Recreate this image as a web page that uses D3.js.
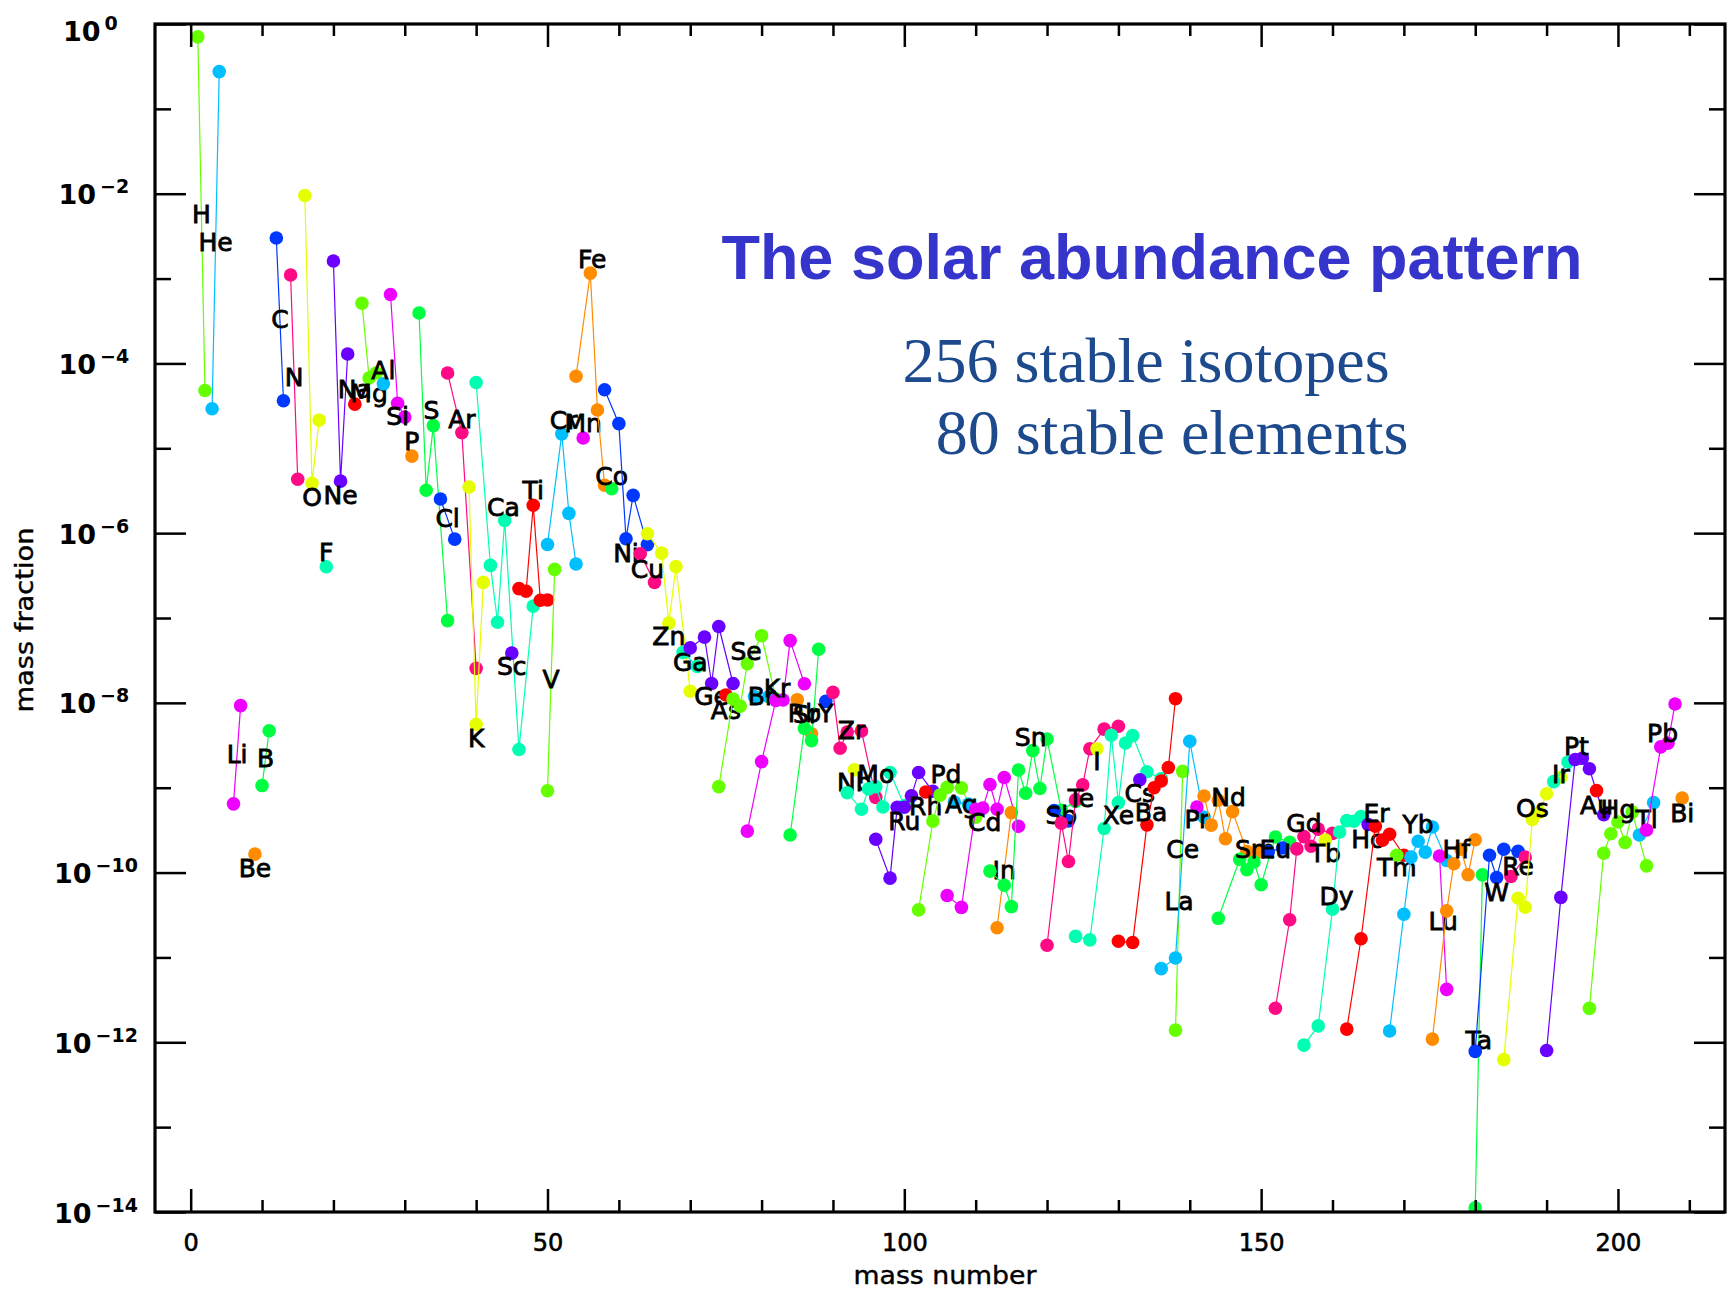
<!DOCTYPE html>
<html>
<head>
<meta charset="utf-8">
<script src="https://cdn.jsdelivr.net/npm/d3@7"></script>
<style>
  html, body { margin: 0; padding: 0; background: #ffffff; }
  svg { display: block; }
</style>
</head>
<body>
<svg id="chart" width="1735" height="1289"></svg>
<script>
// Stable isotopes of the solar system, grouped by element (mass fractions).
const elements = ["H","He","Li","Be","B","C","N","O","F","Ne","Na","Mg","Al","Si","P","S","Cl","Ar","K","Ca",
  "Sc","Ti","V","Cr","Mn","Fe","Co","Ni","Cu","Zn","Ga","Ge","As","Se","Br","Kr","Rb","Sr","Y","Zr",
  "Nb","Mo","Ru","Rh","Pd","Ag","Cd","In","Sn","Sb","Te","I","Xe","Cs","Ba","La","Ce","Pr","Nd","Sm",
  "Eu","Gd","Tb","Dy","Ho","Er","Tm","Yb","Lu","Hf","Ta","W","Re","Os","Ir","Pt","Au","Hg","Tl","Pb","Bi"];

const massNumbers = [
  [1,2],[3,4],[6,7],[9],[10,11],[12,13],[14,15],[16,17,18],[19],[20,21,22],
  [23],[24,25,26],[27],[28,29,30],[31],[32,33,34,36],[35,37],[36,38,40],[39,40,41],[40,42,43,44,46,48],
  [45],[46,47,48,49,50],[50,51],[50,52,53,54],[55],[54,56,57,58],[59],[58,60,61,62,64],[63,65],[64,66,67,68,70],
  [69,71],[70,72,73,74,76],[75],[74,76,77,78,80,82],[79,81],[78,80,82,83,84,86],[85,87],[84,86,87,88],[89],[90,91,92,94,96],
  [93],[92,94,95,96,97,98,100],[96,98,99,100,101,102,104],[103],[102,104,105,106,108,110],[107,109],
  [106,108,110,111,112,113,114,116],[113,115],[112,114,115,116,117,118,119,120,122,124],[121,123],
  [120,122,123,124,125,126,128,130],[127],[124,126,128,129,130,131,132,134,136],[133],[130,132,134,135,136,137,138],
  [138,139],[136,138,140,142],[141],[142,143,144,145,146,148,150],[144,147,148,149,150,152,154],
  [151,153],[152,154,155,156,157,158,160],[159],[156,158,160,161,162,163,164],[165],[162,164,166,167,168,170],
  [169],[168,170,171,172,173,174,176],[175,176],[174,176,177,178,179,180],
  [180,181],[180,182,183,184,186],[185,187],[184,186,187,188,189,190,192],[191,193],[190,192,194,195,196,198],
  [197],[196,198,199,200,201,202,204],[203,205],[204,206,207,208],[209]
];

const massFractions = [
  [7.06e-1,4.8e-5],[2.92e-5,2.75e-1],[6.45e-10,9.28e-9],[1.65e-10],[1.06e-9,4.69e-9],
  [3.01e-3,3.63e-5],[1.10e-3,4.31e-6],[9.54e-3,3.86e-6,2.15e-5],[4.02e-7],[1.61e-3,4.10e-6,1.29e-4],
  [3.31e-5],[5.11e-4,6.74e-5,7.72e-5],[5.75e-5],[6.48e-4,3.40e-5,2.33e-5],[8.09e-6],
  [3.93e-4,3.20e-6,1.85e-5,9.31e-8],[2.53e-6,8.5e-7],[7.70e-5,1.53e-5,2.55e-8],[3.50e-6,5.6e-9,2.63e-7],
  [5.95e-5,4.17e-7,8.90e-8,1.41e-6,2.82e-9,1.38e-7],
  [3.86e-8],[2.22e-7,2.07e-7,2.13e-6,1.62e-7,1.63e-7],[9.2e-10,3.74e-7],[7.36e-7,1.48e-5,1.71e-6,4.33e-7],
  [1.32e-5],[7.07e-5,1.16e-3,2.83e-5,3.67e-6],[3.33e-6],[4.89e-5,1.95e-5,8.60e-7,2.79e-6,7.33e-7],
  [5.71e-7,2.63e-7],[9.84e-7,5.82e-7,8.69e-8,4.03e-7,1.37e-8],
  [3.94e-8,2.69e-8],[4.44e-8,5.95e-8,1.69e-8,7.94e-8,1.69e-8],[1.24e-8],
  [1.03e-9,1.11e-8,9.16e-9,2.89e-8,6.19e-8,1.12e-8],[1.19e-8,1.18e-8],
  [3.08e-10,2.03e-9,1.07e-8,1.08e-8,5.41e-8,1.68e-8],[1.09e-8,4.31e-9],[2.77e-10,5.00e-9,3.59e-9,4.29e-8],
  [1.04e-8],[1.33e-8,2.92e-9,4.52e-9,4.67e-9,7.69e-10],
  [1.63e-9],[8.74e-10,5.57e-10,9.68e-10,1.03e-9,5.93e-10,1.51e-9,6.16e-10],
  [2.47e-10,8.60e-11,5.87e-10,5.88e-10,8.02e-10,1.51e-9,9.08e-10],[8.89e-10],
  [3.63e-11,4.04e-10,8.18e-10,1.01e-9,9.97e-10,4.50e-10],[6.77e-10,6.40e-10],
  [5.36e-11,3.89e-11,5.55e-10,5.74e-10,1.09e-9,5.58e-10,1.32e-9,3.51e-10],[2.24e-11,5.08e-10],
  [1.04e-10,7.10e-11,3.97e-11,1.62e-9,8.61e-10,2.74e-9,9.79e-10,3.75e-9,5.42e-10,6.88e-10],[5.38e-10,4.07e-10],
  [1.39e-11,3.83e-10,1.35e-10,7.21e-10,1.08e-9,2.88e-9,4.90e-9,5.31e-9],[2.87e-9],
  [1.77e-11,1.61e-11,3.31e-10,4.16e-9,6.67e-10,3.37e-9,4.11e-9,1.54e-9,1.28e-9],[1.24e-9],
  [1.55e-11,1.50e-11,3.65e-10,1.00e-9,1.20e-9,1.73e-9,1.12e-8],
  [1.39e-12,1.56e-9],[7.37e-12,9.84e-12,3.53e-9,4.49e-10],[5.91e-10],
  [8.00e-10,3.62e-10,7.12e-10,2.50e-10,5.22e-10,1.77e-10,1.76e-10],
  [2.89e-11,1.43e-10,1.08e-10,1.33e-10,7.19e-11,2.63e-10,2.27e-10],
  [1.76e-10,1.95e-10],[2.52e-12,2.78e-11,1.90e-10,2.65e-10,2.04e-10,3.25e-10,2.90e-10],[2.41e-10],
  [9.26e-13,1.56e-12,3.71e-11,3.01e-10,4.09e-10,4.02e-10,4.58e-10],[3.68e-10],
  [1.43e-12,1.66e-11,3.51e-10,2.41e-10,2.83e-10,1.60e-10],
  [1.60e-10],[1.36e-12,3.23e-11,1.52e-10,2.34e-10,1.74e-10,3.44e-10,1.39e-10],[1.57e-10,4.20e-12],
  [1.09e-12,3.54e-11,1.27e-10,1.88e-10,9.43e-11,2.44e-10],
  [1.12e-14,9.40e-11],[7.81e-13,1.60e-10,8.74e-11,1.88e-10,1.78e-10],[8.98e-11,1.52e-10],
  [6.24e-13,4.98e-11,3.9e-11,4.24e-10,5.16e-10,8.50e-10,1.33e-9],[1.18e-9,2.01e-9],
  [8.0e-13,5.10e-11,2.15e-9,2.22e-9,1.67e-9,4.80e-10],
  [9.25e-10],[2.51e-12,1.69e-10,2.87e-10,3.94e-10,2.26e-10,5.15e-10,1.20e-10],[2.77e-10,6.67e-10],
  [3.18e-10,3.03e-9,3.34e-9,9.71e-9],[7.55e-10]
];

// Height (log10 of mass fraction) at which each element name is written;
// names sit at the mean mass number of the element's isotopes.
const labelLog10 = [
  -2.24,-2.57,-8.61,-9.95,-8.65,-3.48,-4.17,-5.58,-6.23,-5.56,
  -4.31,-4.35,-4.08,-4.63,-4.92,-4.56,-5.83,-4.66,-8.42,-5.70,
  -7.57,-5.50,-7.73,-4.67,-4.71,-2.77,-5.33,-6.24,-6.43,-7.22,
  -7.52,-7.93,-8.09,-7.40,-7.93,-7.83,-8.13,-8.14,-8.12,-8.33,
  -8.94,-8.85,-9.40,-9.22,-8.84,-9.20,-9.41,-9.97,-8.41,-9.33,
  -9.13,-8.69,-9.33,-9.07,-9.29,-10.34,-9.73,-9.38,-9.12,-9.73,
  -9.73,-9.42,-9.78,-10.28,-9.61,-9.30,-9.94,-9.43,-10.58,-9.73,
  -11.98,-10.23,-9.93,-9.24,-8.85,-8.51,-9.21,-9.26,-9.37,-8.36,-9.30
];

// Colour cycle applied element by element.
const palette = ["#66ff00","#00bfff","#ee00ff","#ff8c00","#00ff40","#0038ff",
                 "#ff0a85","#e6ff00","#00ffb2","#6a00ff","#ff0000"];

const yTickExponents = [0,-2,-4,-6,-8,-10,-12,-14];
const yMinorExponents = [-1,-3,-5,-7,-9,-11,-13];
const xMajorTicks = [0,50,100,150,200];
const xMinorTicks = [10,20,30,40,60,70,80,90,110,120,130,140,160,170,180,190,210];

const titleText = "The solar abundance pattern";
const subtitleLines = ["256 stable isotopes", "80 stable elements"];

// ---- layout ----
const svg = d3.select("#chart");
const M = { left: 155, right: 1725, top: 24, bottom: 1212 };

const x = d3.scaleLinear().domain([-5, 215]).range([M.left, M.right]);
const y = d3.scaleLog().domain([1e-14, 1]).range([M.bottom, M.top]);

svg.append("rect").attr("width", 1735).attr("height", 1289).attr("fill", "#fff");

svg.append("defs").append("clipPath").attr("id", "plotClip")
  .append("rect").attr("x", M.left).attr("y", M.top)
  .attr("width", M.right - M.left).attr("height", M.bottom - M.top);

// ---- isotope chains ----
const data = elements.map((el, i) => ({
  el, i,
  color: palette[i % palette.length],
  pts: massNumbers[i].map((a, j) => ({ a, v: massFractions[i][j] })),
  labelA: d3.mean(massNumbers[i]),
  labelV: Math.pow(10, labelLog10[i])
}));

const line = d3.line().x(d => x(d.a)).y(d => y(d.v));
const plotG = svg.append("g").attr("clip-path", "url(#plotClip)");

const groups = plotG.selectAll("g.el").data(data).join("g").attr("class", "el");
groups.append("path")
  .attr("d", d => line(d.pts))
  .attr("fill", "none")
  .attr("stroke", d => d.color)
  .attr("stroke-width", 1.2);
groups.selectAll("circle").data(d => d.pts.map(p => ({ ...p, color: d.color }))).join("circle")
  .attr("cx", p => x(p.a))
  .attr("cy", p => y(p.v))
  .attr("r", 6.8)
  .attr("fill", p => p.color);
groups.append("text")
  .attr("x", d => x(d.labelA))
  .attr("y", d => y(d.labelV))
  .attr("text-anchor", "middle")
  .attr("dominant-baseline", "central")
  .attr("font-family", "DejaVu Sans, sans-serif")
  .attr("font-size", 25)
  .attr("fill", "#000")
  .attr("stroke", "#000")
  .attr("stroke-width", 0.8)
  .text(d => d.el);

// ---- axes ----
const axisStyle = g => {
  g.select(".domain").remove();
  g.selectAll(".tick line").attr("stroke", "#000").attr("stroke-width", 2.5);
};

const xMajorLen = 23, xMinorLen = 12, yMajorLen = 31, yMinorLen = 16;

svg.append("g").attr("transform", `translate(0,${M.bottom})`)
  .call(d3.axisBottom(x).tickValues(xMajorTicks).tickSizeInner(-xMajorLen).tickSizeOuter(0).tickPadding(22))
  .call(axisStyle)
  .call(g => g.selectAll(".tick text")
    .attr("font-family", "DejaVu Sans, sans-serif").attr("font-size", 24)
    .attr("fill", "#000").attr("stroke", "#000").attr("stroke-width", 0.6));
svg.append("g").attr("transform", `translate(0,${M.bottom})`)
  .call(d3.axisBottom(x).tickValues(xMinorTicks).tickSizeInner(-xMinorLen).tickSizeOuter(0).tickFormat(""))
  .call(axisStyle);
svg.append("g").attr("transform", `translate(0,${M.top})`)
  .call(d3.axisTop(x).tickValues(xMajorTicks).tickSizeInner(-xMajorLen).tickSizeOuter(0).tickFormat(""))
  .call(axisStyle);
svg.append("g").attr("transform", `translate(0,${M.top})`)
  .call(d3.axisTop(x).tickValues(xMinorTicks).tickSizeInner(-xMinorLen).tickSizeOuter(0).tickFormat(""))
  .call(axisStyle);

const yMajorVals = yTickExponents.map(e => Math.pow(10, e));
const yMinorVals = yMinorExponents.map(e => Math.pow(10, e));

svg.append("g").attr("transform", `translate(${M.left},0)`)
  .call(d3.axisLeft(y).tickValues(yMajorVals).tickSizeInner(-yMajorLen).tickSizeOuter(0).tickFormat(""))
  .call(axisStyle);
svg.append("g").attr("transform", `translate(${M.left},0)`)
  .call(d3.axisLeft(y).tickValues(yMinorVals).tickSizeInner(-yMinorLen).tickSizeOuter(0).tickFormat(""))
  .call(axisStyle);
svg.append("g").attr("transform", `translate(${M.right},0)`)
  .call(d3.axisRight(y).tickValues(yMajorVals).tickSizeInner(-yMajorLen).tickSizeOuter(0).tickFormat(""))
  .call(axisStyle);
svg.append("g").attr("transform", `translate(${M.right},0)`)
  .call(d3.axisRight(y).tickValues(yMinorVals).tickSizeInner(-yMinorLen).tickSizeOuter(0).tickFormat(""))
  .call(axisStyle);

// y tick labels: "10" with a raised exponent; longer exponents start further left,
// and the top label is kept clear of the page edge.
const expText = e => e === 0 ? "0" : "\u2212" + Math.abs(e);
const yLab = svg.append("g").selectAll("text").data(yTickExponents).join("text")
  .attr("x", e => 63 - 4.5 * (expText(e).length - 1))
  .attr("y", e => Math.max(y(Math.pow(10, e)) + 10.5, 41))
  .attr("text-anchor", "start")
  .attr("font-family", "DejaVu Sans, sans-serif")
  .attr("font-weight", "bold")
  .attr("fill", "#000");
yLab.append("tspan").attr("font-size", 27).text("10");
yLab.append("tspan").attr("font-size", 19).attr("dy", -11).attr("dx", 4)
  .text(e => expText(e));

// frame
svg.append("rect")
  .attr("x", M.left).attr("y", M.top)
  .attr("width", M.right - M.left).attr("height", M.bottom - M.top)
  .attr("fill", "none").attr("stroke", "#000").attr("stroke-width", 3.2);

// axis titles
svg.append("text")
  .attr("x", (x(-5) + x(215)) / 2 + 5).attr("y", 1284)
  .attr("text-anchor", "middle")
  .attr("font-family", "DejaVu Sans, sans-serif").attr("font-size", 24)
  .attr("stroke", "#000").attr("stroke-width", 0.4)
  .attr("textLength", 183).attr("lengthAdjust", "spacingAndGlyphs")
  .text("mass number");
svg.append("text")
  .attr("transform", "translate(33,620) rotate(-90)")
  .attr("text-anchor", "middle")
  .attr("font-family", "DejaVu Sans, sans-serif").attr("font-size", 24)
  .attr("stroke", "#000").attr("stroke-width", 0.4)
  .attr("textLength", 185).attr("lengthAdjust", "spacingAndGlyphs")
  .text("mass fraction");

// title block
svg.append("text")
  .attr("x", 1152).attr("y", 279)
  .attr("text-anchor", "middle")
  .attr("font-family", "Liberation Sans, Arial, sans-serif")
  .attr("font-weight", "bold").attr("font-size", 63)
  .attr("fill", "#3535cc")
  .text(titleText);
svg.append("g").selectAll("text").data(subtitleLines).join("text")
  .attr("x", (d, i) => i === 0 ? 1146 : 1172)
  .attr("y", (d, i) => i === 0 ? 382 : 454)
  .attr("text-anchor", "middle")
  .attr("font-family", "Liberation Serif, Times New Roman, serif")
  .attr("font-size", 64)
  .attr("fill", "#1c4a8c")
  .text(d => d);
</script>
</body>
</html>
